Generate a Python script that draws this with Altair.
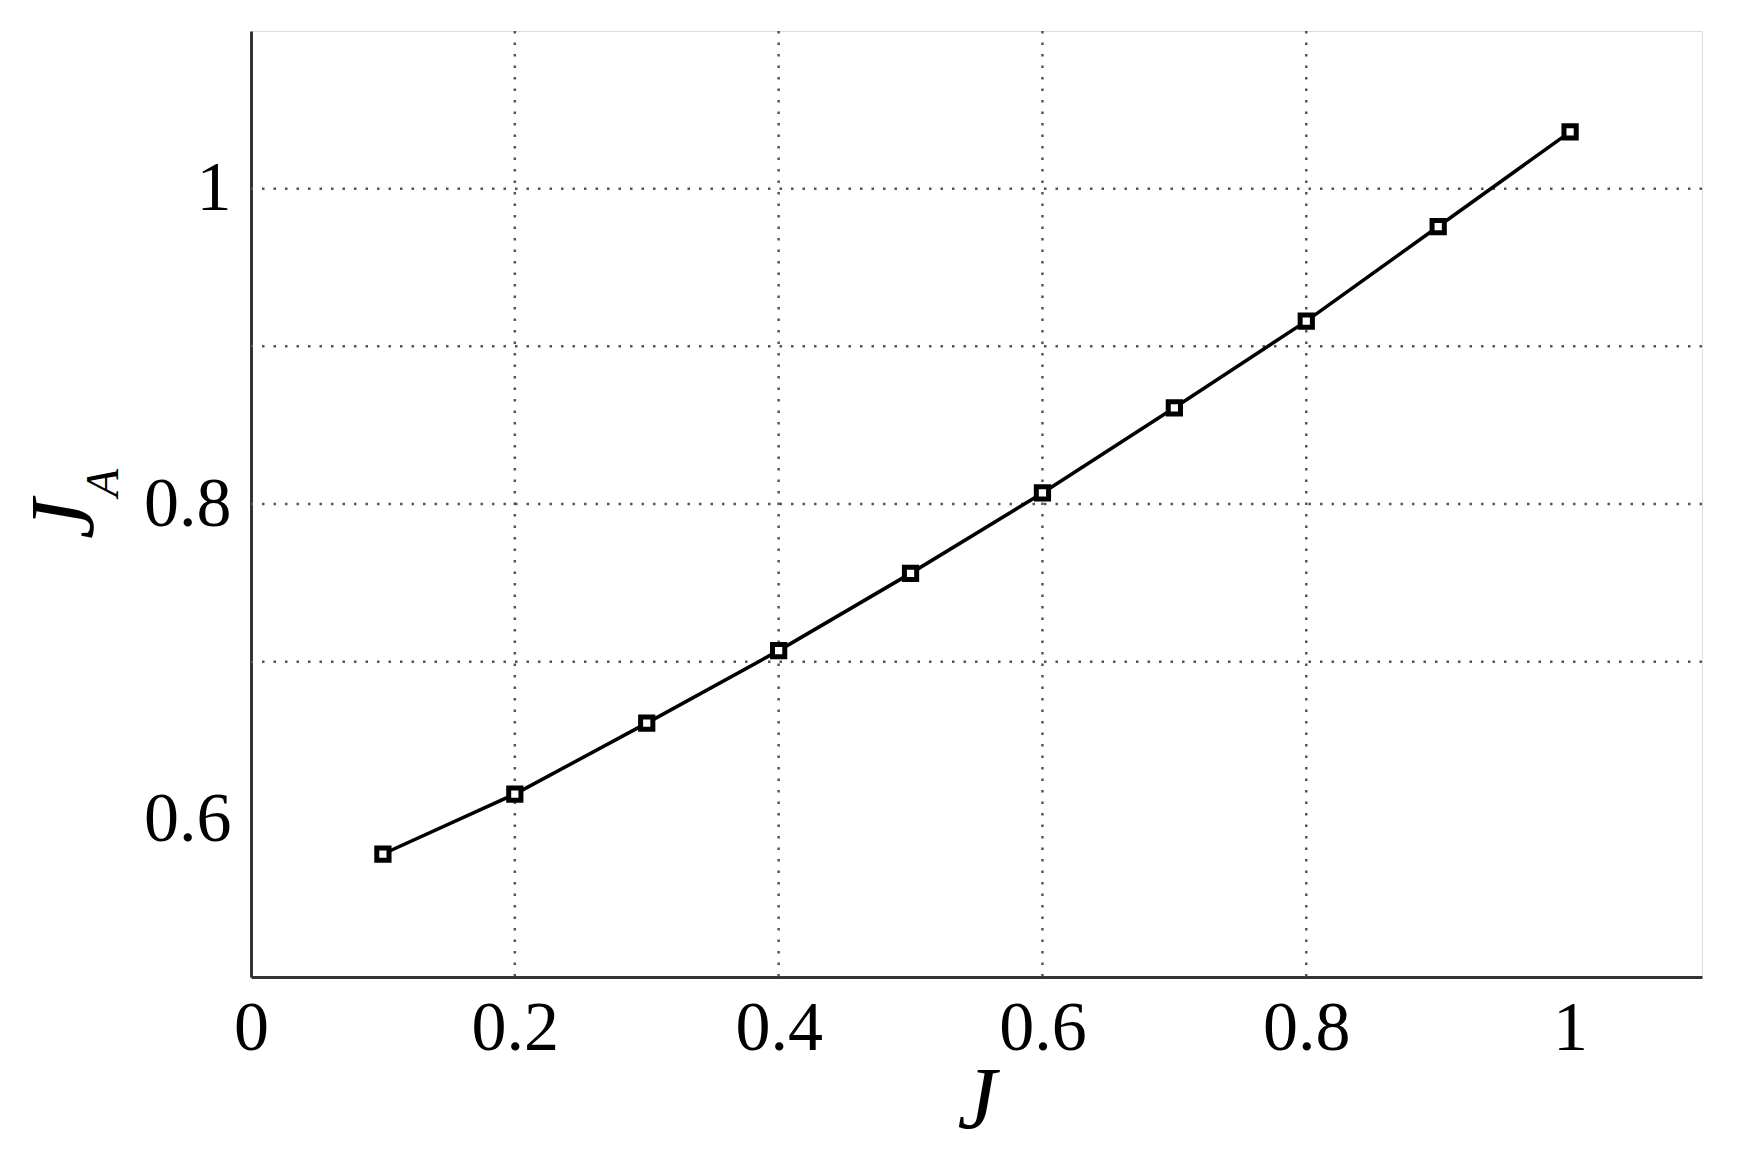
import altair as alt
import pandas as pd

# Data
J_values = [0.1, 0.2, 0.3, 0.4, 0.5, 0.6, 0.7, 0.8, 0.9, 1.0]
JA_values = [0.578, 0.616, 0.661, 0.707, 0.756, 0.807, 0.861, 0.916, 0.976, 1.036]

x_ticks = [0, 0.2, 0.4, 0.6, 0.8, 1.0]
y_ticks = [0.6, 0.8, 1.0]
x_grid = [0.2, 0.4, 0.6, 0.8]
y_grid = [0.7, 0.8, 0.9, 1.0]

FONT = "Liberation Serif"

df = pd.DataFrame({"J": J_values, "JA": JA_values})
xg = pd.DataFrame({"v": x_grid})
yg = pd.DataFrame({"v": y_grid})

xscale = alt.Scale(domain=[0, 1.1], nice=False, zero=False)
yscale = alt.Scale(domain=[0.5, 1.1], nice=False, zero=False)

x_axis = alt.Axis(
    values=x_ticks, format="~g", grid=False, ticks=False, tickSize=0,
    labelFont=FONT, labelFontSize=70, labelColor="black", labelPadding=17,
    labelFlush=False, labelOverlap=False,
    domainColor="#333333", domainWidth=3,
    title="J", titleFont=FONT, titleFontSize=88, titleFontStyle="italic",
    titleFontWeight="normal", titleColor="black", titleBaseline="alphabetic",
    titleY=150,
)
y_axis = alt.Axis(
    values=y_ticks, format="~g", grid=False, ticks=False, tickSize=0,
    labelFont=FONT, labelFontSize=70, labelColor="black", labelPadding=20,
    labelFlush=False, labelOverlap=False,
    domainColor="#333333", domainWidth=3, title=None,
)

grid_style = dict(color="#555555", strokeDash=[2.5, 9], strokeWidth=2.5)

vgrid = alt.Chart(xg).mark_rule(**grid_style).encode(
    x=alt.X("v:Q", scale=xscale, axis=x_axis)
)
hgrid = alt.Chart(yg).mark_rule(**grid_style).encode(
    y=alt.Y("v:Q", scale=yscale, axis=y_axis)
)

line = alt.Chart(df).mark_line(color="black", strokeWidth=3.5).encode(
    x=alt.X("J:Q", scale=xscale, axis=x_axis),
    y=alt.Y("JA:Q", scale=yscale, axis=y_axis),
)
points = alt.Chart(df).mark_point(
    shape="square", filled=True, fill="white", stroke="black",
    strokeWidth=5, size=150, opacity=1,
).encode(
    x=alt.X("J:Q", scale=xscale, axis=x_axis),
    y=alt.Y("JA:Q", scale=yscale, axis=y_axis),
)

title_J = alt.Chart(pd.DataFrame({"t": ["J"]})).mark_text(
    font=FONT, fontSize=90, fontStyle="italic", angle=270,
    align="center", baseline="alphabetic", color="black",
).encode(x=alt.value(-158), y=alt.value(488), text="t:N")

title_A = alt.Chart(pd.DataFrame({"t": ["A"]})).mark_text(
    font=FONT, fontSize=46, fontStyle="italic", angle=270,
    align="center", baseline="alphabetic", color="black",
).encode(x=alt.value(-133), y=alt.value(452), text="t:N")

chart = alt.layer(vgrid, hgrid, line, points, title_J, title_A).properties(
    width=1451, height=946,
    autosize=alt.AutoSizeParams(type="none"),
    padding={"left": 243, "top": 23, "right": 25, "bottom": 180},
).configure_view(stroke=None).configure(background="white")

chart.save("out.html", embed_options={"renderer": "svg", "actions": False})
